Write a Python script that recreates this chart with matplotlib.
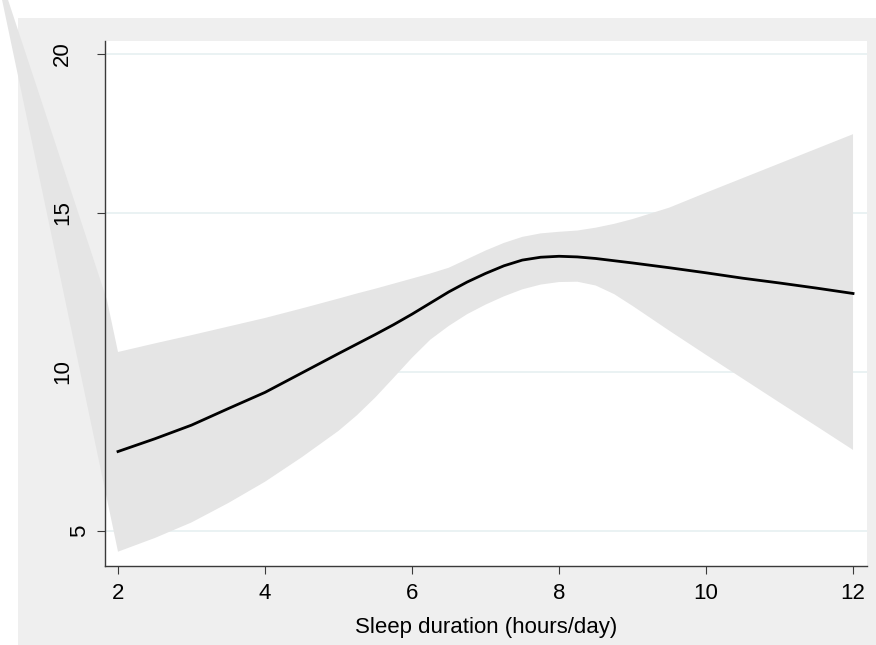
#!/usr/bin/env python3
"""
plot.py — Fitted curve with 95% CI band: outcome vs sleep duration.

Produces:
  - out.png
"""

import numpy as np
import matplotlib
matplotlib.use('Agg')  # non-interactive backend
import matplotlib.pyplot as plt
from matplotlib.patches import Rectangle

plt.rcParams['font.family'] = ['Liberation Sans', 'DejaVu Sans']

# ── Data ────────────────────────────────────────────────────────────────────

sleep_hours = [2.0, 2.5, 3.0, 3.5, 4.0, 4.5, 5.0, 5.25, 5.5, 5.75, 6.0, 6.25,
               6.5, 6.75, 7.0, 7.25, 7.5, 7.75, 8.0, 8.25, 8.5, 8.75, 9.0,
               9.5, 10.0, 10.5, 11.0, 11.5, 12.0]
fit = [7.50, 7.90, 8.33, 8.85, 9.36, 9.97, 10.58, 10.88, 11.18, 11.49, 11.82, 12.17,
       12.52, 12.83, 13.10, 13.34, 13.52, 13.61, 13.64, 13.62, 13.57, 13.50, 13.43,
       13.28, 13.12, 12.95, 12.80, 12.64, 12.47]
ci_upper = [10.63, 10.90, 11.16, 11.43, 11.70, 12.00, 12.31, 12.47, 12.62, 12.78, 12.94, 13.10,
            13.28, 13.55, 13.82, 14.06, 14.25, 14.36, 14.41, 14.45, 14.54, 14.66, 14.81,
            15.17, 15.64, 16.10, 16.56, 17.02, 17.48]
ci_lower = [4.35, 4.78, 5.27, 5.88, 6.55, 7.32, 8.15, 8.64, 9.20, 9.82, 10.45, 11.02,
            11.45, 11.82, 12.12, 12.38, 12.60, 12.75, 12.83, 12.84, 12.72, 12.45, 12.08,
            11.30, 10.54, 9.79, 9.04, 8.30, 7.55]

# the band spills out past the left of the plot region (unclipped in the original)
tail_lower_x = [0.35]
tail_lower_y = [22.5]
tail_upper_x = [1.85, 0.94, 0.39]
tail_upper_y = [12.26, 18.65, 22.5]

xticks = [2, 4, 6, 8, 10, 12]
yticks = [5, 10, 15, 20]
ytick_offsets = {5: -0.033, 10: -0.0555, 15: -0.0555, 20: -0.0565}
xlabel = 'Sleep duration (hours/day)'

BAND = '#e5e5e5'
OUTER = '#efefef'
GRID = '#e6f0f1'
AXIS = '#3a3a3a'
FS = 16

# ── Figure ──────────────────────────────────────────────────────────────────

W, H = 876, 645
fig = plt.figure(figsize=(W / 100, H / 100), dpi=100, facecolor='white')
fig.patches.append(Rectangle((18 / W, 0), (W - 18) / W, (H - 18) / H,
                             transform=fig.transFigure, facecolor=OUTER,
                             edgecolor='none', zorder=-1))

ax = fig.add_axes([105 / W, (H - 566) / H, 762 / W, 525 / H])
ax.set_facecolor('white')
ax.set_xlim(1.823, 12.19)
ax.set_ylim(3.9, 20.41)

# CI band as one polygon (lower edge left->right, upper edge right->left)
poly_x = np.concatenate([tail_lower_x, sleep_hours, sleep_hours[::-1], tail_upper_x])
poly_y = np.concatenate([tail_lower_y, ci_lower, ci_upper[::-1], tail_upper_y])
ax.fill(poly_x, poly_y, color=BAND, lw=0, clip_on=False, zorder=1)

ax.plot(sleep_hours, fit, color='black', lw=2.0, zorder=3,
        solid_joinstyle='round')

# ── Axes styling (Stata-like) ───────────────────────────────────────────────

ax.set_axisbelow(True)
ax.grid(axis='y', color=GRID, lw=1.2)
for side in ['top', 'right']:
    ax.spines[side].set_visible(False)
for side in ['left', 'bottom']:
    ax.spines[side].set_color(AXIS)
    ax.spines[side].set_linewidth(1.0)
    ax.spines[side].set_zorder(4)

ax.set_xticks(xticks)
ax.set_xticklabels([str(t) for t in xticks])
ax.set_yticks(yticks)
ax.set_yticklabels([])
ax.tick_params(axis='both', direction='out', length=6, width=0.8,
               color=AXIS, labelsize=FS, labelcolor='black')
ax.tick_params(axis='x', pad=6)

for t in yticks:
    ax.text(ytick_offsets[t], t, str(t), rotation=90, ha='center', va='center',
            fontsize=FS, transform=ax.get_yaxis_transform(), clip_on=False)

ax.set_xlabel(xlabel, fontsize=FS)
ax.xaxis.label.set_va('center')
ax.xaxis.set_label_coords(0.5, -(628 - 566) / 525)

fig.savefig('out.png', dpi=100, facecolor=fig.get_facecolor())
